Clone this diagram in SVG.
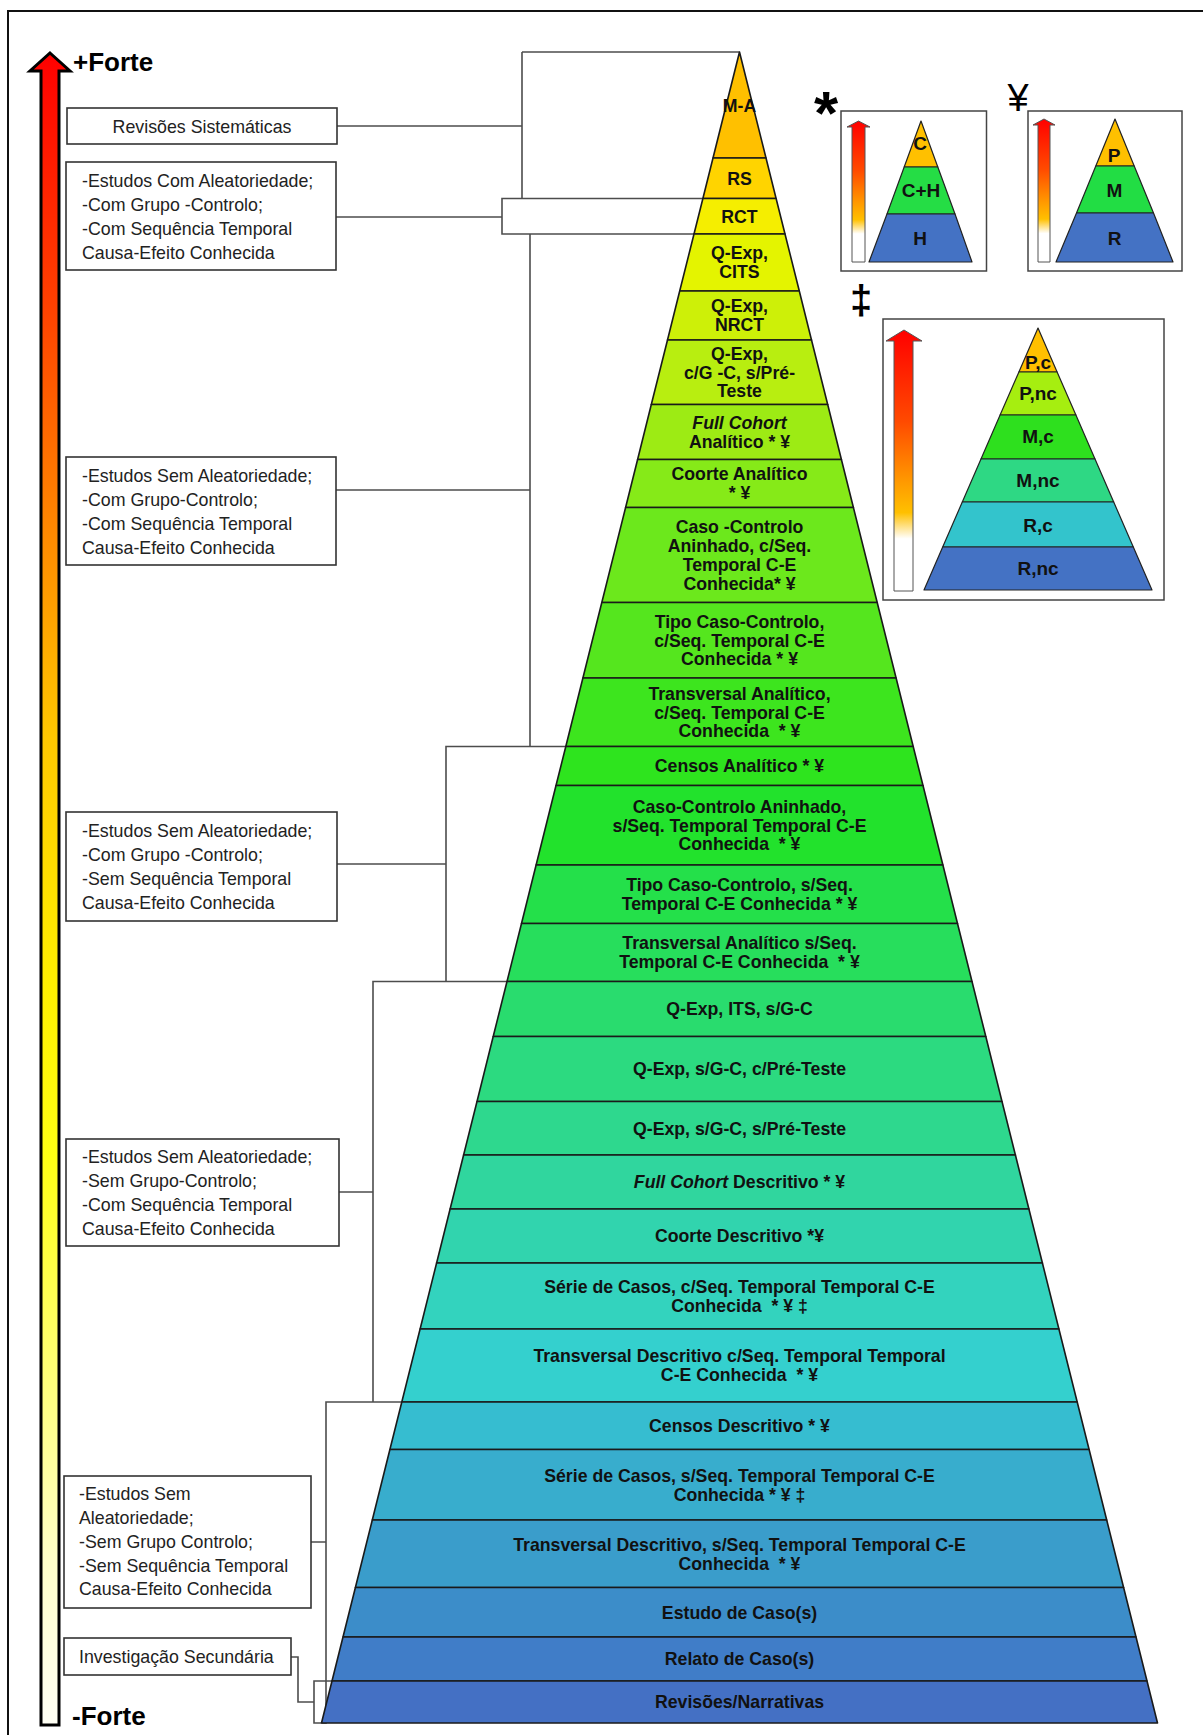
<svg xmlns="http://www.w3.org/2000/svg" width="1203" height="1735" viewBox="0 0 1203 1735">
  <defs>
    <style>
      .row { font-family: "Liberation Sans", Arial, sans-serif; font-weight: bold; font-size: 17.7px; fill: #111; text-anchor: middle; }
      .it { font-style: italic; }
      .lbl { font-family: "Liberation Sans", Arial, sans-serif; font-size: 17.8px; fill: #222; }
      .box { fill: #fff; stroke: #333; stroke-width: 1.6; }
      .conn { fill: none; stroke: #4d4d4d; stroke-width: 1.6; }
      .tier { stroke: #1a1a1a; stroke-width: 1.6; stroke-linejoin: round; }
      .mini { stroke: #222; stroke-width: 1.2; stroke-linejoin: round; }
      .mtxt { font-family: "Liberation Sans", Arial, sans-serif; font-weight: bold; font-size: 19px; fill: #111; text-anchor: middle; }
      .inset { fill: #fff; stroke: #444; stroke-width: 1.5; }
      .big { font-family: "Liberation Sans", Arial, sans-serif; font-weight: bold; font-size: 26px; fill: #000; }
    </style>
    <linearGradient id="strength" gradientUnits="userSpaceOnUse" x1="0" y1="52" x2="0" y2="1726">
      <stop offset="0" stop-color="#ff0000"/>
      <stop offset="0.15" stop-color="#ff4000"/>
      <stop offset="0.27" stop-color="#ff8000"/>
      <stop offset="0.41" stop-color="#ffc800"/>
      <stop offset="0.56" stop-color="#fff000"/>
      <stop offset="0.66" stop-color="#ffff14"/>
      <stop offset="0.78" stop-color="#ffff70"/>
      <stop offset="0.9" stop-color="#ffffc8"/>
      <stop offset="1" stop-color="#fffff5"/>
    </linearGradient>
    <linearGradient id="miniStrength" x1="0" y1="0" x2="0" y2="1">
      <stop offset="0" stop-color="#ff0000"/>
      <stop offset="0.35" stop-color="#ff4a00"/>
      <stop offset="0.58" stop-color="#ff9900"/>
      <stop offset="0.7" stop-color="#ffc000"/>
      <stop offset="0.8" stop-color="#ffffff"/>
      <stop offset="1" stop-color="#ffffff"/>
    </linearGradient>
  </defs>

  <rect width="1203" height="1735" fill="#fff"/>
  <!-- page frame -->
  <path d="M8,1735 V11 H1203" fill="none" stroke="#111" stroke-width="2"/>

  <!-- strength scale -->
  <g id="scale">
    <path d="M50,53 L70,71 L59,71 L59,1725 L41,1725 L41,71 L30,71 Z" fill="url(#strength)" stroke="#000" stroke-width="3" stroke-linejoin="miter"/>
    <text class="big" x="73" y="71">+Forte</text>
    <text class="big" x="72" y="1725">-Forte</text>
  </g>

  <!-- connectors between labels and tiers -->
  <g id="connectors" class="conn">
    <path d="M337,126 H522 M522,52 V198.5 M522,52 H739.5"/>
    <path d="M336,217 H502 M702.9,198.5 H502 V234 H694"/>
    <path d="M336,490 H530 M530,234 V746.5"/>
    <path d="M337,864 H446 M565.8,746.5 H446 V981.5"/>
    <path d="M339,1192 H373 M507,981.5 H373 V1402"/>
    <path d="M311,1542 H326 M401.8,1402 H326 V1723 H321.5"/>
    <path d="M291,1657 H298 V1702 H314 M332,1681 H314 V1723 H321.5"/>
  </g>

  <!-- category labels -->
  <g id="label-rs">
    <rect class="box" x="67" y="108" width="270" height="36"/>
    <text class="lbl" x="202" y="133" text-anchor="middle">Revisões Sistemáticas</text>
  </g>
  <g id="label-rand">
    <rect class="box" x="66" y="162" width="270" height="108"/>
    <text class="lbl" x="82" y="186.5">-Estudos Com Aleatoriedade;</text>
    <text class="lbl" x="82" y="210.5">-Com Grupo -Controlo;</text>
    <text class="lbl" x="82" y="234.5">-Com Sequência Temporal</text>
    <text class="lbl" x="82" y="258.5">Causa-Efeito Conhecida</text>
  </g>
  <g id="label-norand-gc-seq">
    <rect class="box" x="66" y="457" width="270" height="108"/>
    <text class="lbl" x="82" y="482">-Estudos Sem Aleatoriedade;</text>
    <text class="lbl" x="82" y="506">-Com Grupo-Controlo;</text>
    <text class="lbl" x="82" y="530">-Com Sequência Temporal</text>
    <text class="lbl" x="82" y="554">Causa-Efeito Conhecida</text>
  </g>
  <g id="label-norand-gc-noseq">
    <rect class="box" x="66" y="812" width="271" height="109"/>
    <text class="lbl" x="82" y="837">-Estudos Sem Aleatoriedade;</text>
    <text class="lbl" x="82" y="861">-Com Grupo -Controlo;</text>
    <text class="lbl" x="82" y="885">-Sem Sequência Temporal</text>
    <text class="lbl" x="82" y="909">Causa-Efeito Conhecida</text>
  </g>
  <g id="label-norand-nogc-seq">
    <rect class="box" x="66" y="1139" width="273" height="107"/>
    <text class="lbl" x="82" y="1163">-Estudos Sem Aleatoriedade;</text>
    <text class="lbl" x="82" y="1187">-Sem Grupo-Controlo;</text>
    <text class="lbl" x="82" y="1211">-Com Sequência Temporal</text>
    <text class="lbl" x="82" y="1235">Causa-Efeito Conhecida</text>
  </g>
  <g id="label-norand-nogc-noseq">
    <rect class="box" x="64" y="1476" width="247" height="132"/>
    <text class="lbl" x="79" y="1500">-Estudos Sem</text>
    <text class="lbl" x="79" y="1524">Aleatoriedade;</text>
    <text class="lbl" x="79" y="1548">-Sem Grupo Controlo;</text>
    <text class="lbl" x="79" y="1572">-Sem Sequência Temporal</text>
    <text class="lbl" x="79" y="1595">Causa-Efeito Conhecida</text>
  </g>
  <g id="label-secondary">
    <rect class="box" x="64" y="1638" width="227" height="37"/>
    <text class="lbl" x="79" y="1663">Investigação Secundária</text>
  </g>

  <!-- evidence pyramid tiers, top to bottom -->
  <g id="tier-01"><polygon class="tier" fill="#ffc000" points="739.5,52 766,158 713,158"/><text class="row" x="739.5" y="111.5">M-A</text></g>
  <g id="tier-02"><polygon class="tier" fill="#ffd400" points="713,158 766,158 776.1,198.5 702.9,198.5"/><text class="row" x="739.5" y="184.5">RS</text></g>
  <g id="tier-03"><polygon class="tier" fill="#f5ee00" points="702.9,198.5 776.1,198.5 785,234 694,234"/><text class="row" x="739.5" y="222.5">RCT</text></g>
  <g id="tier-04"><polygon class="tier" fill="#e4f400" points="694,234 785,234 799.3,291 679.7,291"/><text class="row" x="739.5" y="259.4">Q-Exp,</text><text class="row" x="739.5" y="278.2">CITS</text></g>
  <g id="tier-05"><polygon class="tier" fill="#cdf008" points="679.7,291 799.3,291 811.5,340 667.5,340"/><text class="row" x="739.5" y="312.4">Q-Exp,</text><text class="row" x="739.5" y="331.2">NRCT</text></g>
  <g id="tier-06"><polygon class="tier" fill="#b8ee10" points="667.5,340 811.5,340 827.7,404.5 651.3,404.5"/><text class="row" x="739.5" y="359.8">Q-Exp,</text><text class="row" x="739.5" y="378.6">c/G -C, s/Pré-</text><text class="row" x="739.5" y="397.4">Teste</text></g>
  <g id="tier-07"><polygon class="tier" fill="#9deb14" points="651.3,404.5 827.7,404.5 841.4,459.5 637.6,459.5"/><text class="row it" x="739.5" y="428.9">Full Cohort</text><text class="row" x="739.5" y="447.7">Analítico * ¥</text></g>
  <g id="tier-08"><polygon class="tier" fill="#86ea18" points="637.6,459.5 841.4,459.5 853.4,507.5 625.6,507.5"/><text class="row" x="739.5" y="480.4">Coorte Analítico</text><text class="row" x="739.5" y="499.2">* ¥</text></g>
  <g id="tier-09"><polygon class="tier" fill="#6ce81c" points="625.6,507.5 853.4,507.5 877.2,602.5 601.8,602.5"/><text class="row" x="739.5" y="533.1">Caso -Controlo</text><text class="row" x="739.5" y="551.9">Aninhado, c/Seq.</text><text class="row" x="739.5" y="570.7">Temporal C-E</text><text class="row" x="739.5" y="589.5">Conhecida* ¥</text></g>
  <g id="tier-10"><polygon class="tier" fill="#55e61e" points="601.8,602.5 877.2,602.5 896.1,678 582.9,678"/><text class="row" x="739.5" y="627.8">Tipo Caso-Controlo,</text><text class="row" x="739.5" y="646.6">c/Seq. Temporal C-E</text><text class="row" x="739.5" y="665.4">Conhecida * ¥</text></g>
  <g id="tier-11"><polygon class="tier" fill="#3de51e" points="582.9,678 896.1,678 913.2,746.5 565.8,746.5"/><text class="row" x="739.5" y="699.8">Transversal Analítico,</text><text class="row" x="739.5" y="718.6">c/Seq. Temporal C-E</text><text class="row" x="739.5" y="737.4">Conhecida&#160; * ¥</text></g>
  <g id="tier-12"><polygon class="tier" fill="#2ee41e" points="565.8,746.5 913.2,746.5 923,785.5 556,785.5"/><text class="row" x="739.5" y="772.3">Censos Analítico * ¥</text></g>
  <g id="tier-13"><polygon class="tier" fill="#22e22c" points="556,785.5 923,785.5 942.9,865 536.1,865"/><text class="row" x="739.5" y="812.8">Caso-Controlo Aninhado,</text><text class="row" x="739.5" y="831.6">s/Seq. Temporal Temporal C-E</text><text class="row" x="739.5" y="850.4">Conhecida&#160; * ¥</text></g>
  <g id="tier-14"><polygon class="tier" fill="#24e04a" points="536.1,865 942.9,865 957.5,923.5 521.5,923.5"/><text class="row" x="739.5" y="891.2">Tipo Caso-Controlo, s/Seq.</text><text class="row" x="739.5" y="910">Temporal C-E Conhecida * ¥</text></g>
  <g id="tier-15"><polygon class="tier" fill="#27de5c" points="521.5,923.5 957.5,923.5 972,981.5 507,981.5"/><text class="row" x="739.5" y="949.4">Transversal Analítico s/Seq.</text><text class="row" x="739.5" y="968.2">Temporal C-E Conhecida&#160; * ¥</text></g>
  <g id="tier-16"><polygon class="tier" fill="#29dc6e" points="507,981.5 972,981.5 985.8,1036.5 493.2,1036.5"/><text class="row" x="739.5" y="1015.3">Q-Exp, ITS, s/G-C</text></g>
  <g id="tier-17"><polygon class="tier" fill="#2cda80" points="493.2,1036.5 985.8,1036.5 1002,1101.5 477,1101.5"/><text class="row" x="739.5" y="1075.3">Q-Exp, s/G-C, c/Pré-Teste</text></g>
  <g id="tier-18"><polygon class="tier" fill="#2ed88e" points="477,1101.5 1002,1101.5 1015.4,1155 463.6,1155"/><text class="row" x="739.5" y="1134.5">Q-Exp, s/G-C, s/Pré-Teste</text></g>
  <g id="tier-19"><polygon class="tier" fill="#30d69e" points="463.6,1155 1015.4,1155 1028.9,1209 450.1,1209"/><text class="row" x="739.5" y="1188.3"><tspan class="it">Full Cohort</tspan> Descritivo * ¥</text></g>
  <g id="tier-20"><polygon class="tier" fill="#31d4ae" points="450.1,1209 1028.9,1209 1042.4,1263 436.6,1263"/><text class="row" x="739.5" y="1242.3">Coorte Descritivo *¥</text></g>
  <g id="tier-21"><polygon class="tier" fill="#33d3be" points="436.6,1263 1042.4,1263 1058.9,1329 420.1,1329"/><text class="row" x="739.5" y="1292.9">Série de Casos, c/Seq. Temporal Temporal C-E</text><text class="row" x="739.5" y="1311.7">Conhecida&#160; * ¥ ‡</text></g>
  <g id="tier-22"><polygon class="tier" fill="#34d0ce" points="420.1,1329 1058.9,1329 1077.2,1402 401.8,1402"/><text class="row" x="739.5" y="1362.4">Transversal Descritivo c/Seq. Temporal Temporal</text><text class="row" x="739.5" y="1381.2">C-E Conhecida&#160; * ¥</text></g>
  <g id="tier-23"><polygon class="tier" fill="#36bdd0" points="401.8,1402 1077.2,1402 1089.1,1449.5 389.9,1449.5"/><text class="row" x="739.5" y="1432">Censos Descritivo * ¥</text></g>
  <g id="tier-24"><polygon class="tier" fill="#38adcd" points="389.9,1449.5 1089.1,1449.5 1106.7,1520 372.3,1520"/><text class="row" x="739.5" y="1481.7">Série de Casos, s/Seq. Temporal Temporal C-E</text><text class="row" x="739.5" y="1500.5">Conhecida * ¥ ‡</text></g>
  <g id="tier-25"><polygon class="tier" fill="#3a9dcb" points="372.3,1520 1106.7,1520 1123.6,1587.5 355.4,1587.5"/><text class="row" x="739.5" y="1550.7">Transversal Descritivo, s/Seq. Temporal Temporal C-E</text><text class="row" x="739.5" y="1569.5">Conhecida&#160; * ¥</text></g>
  <g id="tier-26"><polygon class="tier" fill="#3c8dc9" points="355.4,1587.5 1123.6,1587.5 1136,1637 343,1637"/><text class="row" x="739.5" y="1618.5">Estudo de Caso(s)</text></g>
  <g id="tier-27"><polygon class="tier" fill="#407dc8" points="343,1637 1136,1637 1147,1681 332,1681"/><text class="row" x="739.5" y="1665.3">Relato de Caso(s)</text></g>
  <g id="tier-28"><polygon class="tier" fill="#4470c4" points="332,1681 1147,1681 1157.5,1723 321.5,1723"/><text class="row" x="739.5" y="1708.3">Revisões/Narrativas</text></g>

  <!-- key * : collection method -->
  <g id="key-asterisk">
    <text x="826" y="134" font-family="'Liberation Sans', Arial, sans-serif" font-weight="bold" font-size="62" text-anchor="middle" fill="#000">*</text>
    <rect class="inset" x="841" y="111" width="145.5" height="160"/>
    <path d="M858.5,121 L870,127 L865,127 L865,262 L852,262 L852,127 L847,127 Z" fill="url(#miniStrength)" stroke="#555" stroke-width="1"/>
    <polygon class="mini" fill="#ffc000" points="921,121 937.8,167 904.2,167"/>
    <polygon class="mini" fill="#25dd45" points="904.2,167 937.8,167 955,214 887,214"/>
    <polygon class="mini" fill="#4472c4" points="887,214 955,214 972,262 869,262"/>
    <text class="mtxt" x="920" y="150">C</text>
    <text class="mtxt" x="921" y="197">C+H</text>
    <text class="mtxt" x="920" y="245">H</text>
  </g>

  <!-- key ¥ : data source -->
  <g id="key-yen">
    <text x="1018" y="111" font-family="'Liberation Sans', Arial, sans-serif" font-size="38" text-anchor="middle" fill="#000">¥</text>
    <rect class="inset" x="1028" y="111" width="154" height="160"/>
    <path d="M1044,119 L1055,125 L1050,125 L1050,262 L1038,262 L1038,125 L1033,125 Z" fill="url(#miniStrength)" stroke="#555" stroke-width="1"/>
    <polygon class="mini" fill="#ffc000" points="1115,119 1134.2,166 1095.8,166"/>
    <polygon class="mini" fill="#22dd44" points="1095.8,166 1134.2,166 1153.5,213 1076.5,213"/>
    <polygon class="mini" fill="#4472c4" points="1076.5,213 1153.5,213 1173,262 1056,262"/>
    <text class="mtxt" x="1114" y="162">P</text>
    <text class="mtxt" x="1114.5" y="197">M</text>
    <text class="mtxt" x="1114.5" y="245">R</text>
  </g>

  <!-- key ‡ : combined source and completeness -->
  <g id="key-dagger">
    <text x="861" y="314" font-family="'Liberation Sans', Arial, sans-serif" font-weight="bold" font-size="40" text-anchor="middle" fill="#000">‡</text>
    <rect class="inset" x="883" y="319" width="281" height="281"/>
    <path d="M904,330 L922,341 L913,341 L913,591 L894,591 L894,341 L886,341 Z" fill="url(#miniStrength)" stroke="#555" stroke-width="1"/>
    <polygon class="mini" fill="#ffc000" points="1038,328 1057.1,372 1018.9,372"/>
    <polygon class="mini" fill="#a6ee10" points="1018.9,372 1057.1,372 1075.9,415 1000.1,415"/>
    <polygon class="mini" fill="#2ee01e" points="1000.1,415 1075.9,415 1095,459 981,459"/>
    <polygon class="mini" fill="#2ed884" points="981,459 1095,459 1113.7,502 962.3,502"/>
    <polygon class="mini" fill="#33c4cc" points="962.3,502 1113.7,502 1133.3,547 942.7,547"/>
    <polygon class="mini" fill="#4472c4" points="942.7,547 1133.3,547 1152,590 924,590"/>
    <text class="mtxt" x="1038" y="369">P,c</text>
    <text class="mtxt" x="1038" y="400">P,nc</text>
    <text class="mtxt" x="1038" y="443">M,c</text>
    <text class="mtxt" x="1038" y="487">M,nc</text>
    <text class="mtxt" x="1038" y="532">R,c</text>
    <text class="mtxt" x="1038" y="575">R,nc</text>
  </g>
</svg>
